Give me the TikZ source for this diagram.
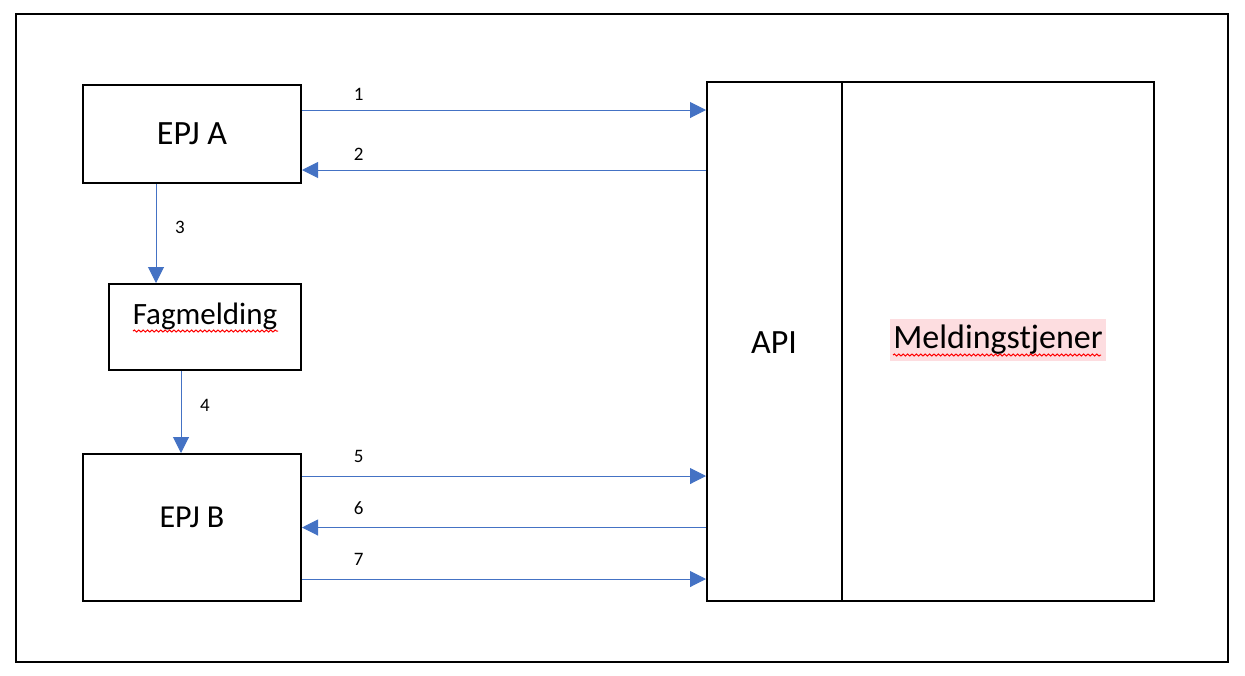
\documentclass[tikz,border=0pt]{standalone}
\usepackage{fontspec}
\setmainfont{Carlito}
\usetikzlibrary{arrows.meta,decorations.pathmorphing}
\definecolor{msgblue}{HTML}{4472C4}
\definecolor{hlpink}{HTML}{FDDDE0}
\tikzset{
  box/.style={draw, line width=1pt, inner sep=0pt},
  msg/.style={msgblue, line width=0.5pt, -{Triangle[length=8pt,width=8pt]}},
  num/.style={text=black, font=\fontsize{9.5}{11}\selectfont},
  spell/.style={red, line width=0.5pt, decorate, decoration={snake, amplitude=0.5pt, segment length=2.2pt}}
}
\begin{document}
\begin{tikzpicture}[x=0.5pt, y=-0.5pt]
    \useasboundingbox (0,0) rectangle (1245,675);
    \draw[line width=1pt] (16,14) rectangle (1228,662);
    % clients and message
    \node[box, minimum width=109pt, minimum height=49pt, font=\fontsize{17}{20}\selectfont] (epjA) at (192,134) {EPJ A};
    \node[box, minimum width=96pt, minimum height=43pt] (fag) at (205,327) {};
    \node[font=\fontsize{15.5}{18}\selectfont] (fagtxt) at (205,316) {Fagmelding};
    \draw[spell] (133,331) -- (278,331);
    \node[box, minimum width=109pt, minimum height=73.5pt] (epjB) at (192,527.5) {};
    \node[font=\fontsize{16}{19}\selectfont] (epjBtxt) at (192,517) {EPJ B};
    % server side
    \node[box, minimum width=67.5pt, minimum height=259.5pt] (api) at (774.5,341.5) {};
    \node[box, minimum width=156pt, minimum height=259.5pt] (mt) at (998,341.5) {};
    \node[font=\fontsize{17}{20}\selectfont] (apitxt) at (774,343) {API};
    \node[fill=hlpink, inner xsep=1.5pt, inner ysep=3pt, font=\fontsize{17}{20}\selectfont] (mttxt) at (998,340) {Meldingstjener};
    \draw[spell] (893,355) -- (1101,355);
    % messages
    \draw[msg] ([yshift=12pt]epjA.east) -- ([yshift=12pt]epjA.east -| api.west) node[num, pos=0.14, above=1pt] {1};
    \draw[msg] ([yshift=-18pt]epjA.east -| api.west) -- ([yshift=-18pt]epjA.east) node[num, pos=0.86, above=1pt] {2};
    \draw[msg] ([xshift=-18pt]epjA.south) -- ([xshift=-18pt]epjA.south |- fag.north) node[num, pos=0.44, right=6pt] {3};
    \draw[msg] ([xshift=-12pt]fag.south) -- ([xshift=-12pt]fag.south |- epjB.north) node[num, pos=0.42, right=6pt] {4};
    \draw[msg] ([yshift=25.75pt]epjB.east) -- ([yshift=25.75pt]epjB.east -| api.west) node[num, pos=0.14, above=3pt] {5};
    \draw[msg] (epjB.east -| api.west) -- (epjB.east) node[num, pos=0.86, above=3pt] {6};
    \draw[msg] ([yshift=-25.75pt]epjB.east) -- ([yshift=-25.75pt]epjB.east -| api.west) node[num, pos=0.14, above=3pt] {7};
\end{tikzpicture}
\end{document}
